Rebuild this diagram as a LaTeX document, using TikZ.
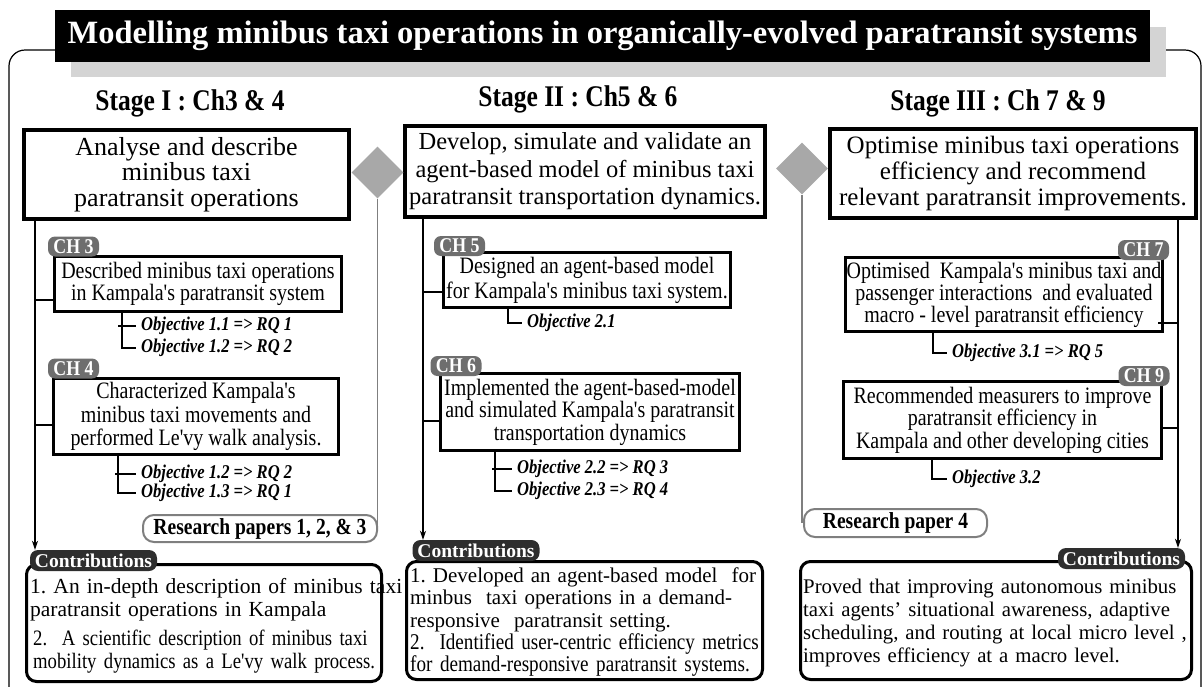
\documentclass[tikz,border=0pt]{standalone}
\usepackage{fontspec}
\setmainfont{Liberation Serif}
\newfontfamily\tightserif[FakeStretch=0.85]{Liberation Serif}
\usetikzlibrary{arrows.meta,shapes.geometric}

\definecolor{tagGray}{HTML}{6E6E6E}
\definecolor{tagDark}{HTML}{2E2E2E}
\definecolor{diamGray}{HTML}{A8A8A8}
\definecolor{lineGray}{HTML}{7F7F7F}
\definecolor{shadowGray}{HTML}{D4D4D4}

\newcommand{\fs}[2]{\fontsize{#1}{#2}\selectfont}
\frenchspacing

\begin{document}
\begin{tikzpicture}[x=1pt,y=-1pt,
  mainbox/.style={draw, line width=4.5pt, fill=white, align=center, inner sep=0pt},
  chbox/.style={draw, line width=2.5pt, fill=white, align=center, inner sep=0pt},
  chtag/.style={fill=tagGray, rounded corners=7pt, text=white, inner sep=0pt,
    minimum width=51pt, minimum height=20pt, font=\tightserif\bfseries\fs{21}{21}},
  contag/.style={fill=tagDark, rounded corners=8pt, text=white, inner sep=0pt,
    minimum width=127pt, minimum height=21pt, font=\bfseries\fs{19.5}{20}},
  conbox/.style={draw, line width=3pt, rounded corners=10pt, inner sep=0pt},
  paperbox/.style={draw=lineGray, line width=2pt, rounded corners=11pt, inner sep=0pt,
    font=\tightserif\bfseries\fs{23}{23}},
  objtext/.style={anchor=west, inner sep=0pt, font=\tightserif\bfseries\itshape\fs{19.5}{19.5}},
  heading/.style={inner sep=0pt, font=\tightserif\bfseries\fs{30}{30}},
  contxt/.style={anchor=base west, inner sep=0pt, text width=420pt, align=left},
  junction/.style={diamond, fill=diamGray, inner sep=0pt, minimum width=52pt, minimum height=52pt},
  link/.style={line width=1.3pt},
  glink/.style={line width=1.3pt, draw=lineGray},
  flow/.style={line width=1.3pt, -{Stealth[length=9pt,width=6pt]}}
]
\useasboundingbox (0,0) rectangle (1203,686);

% outer frame, title and its shadow
\draw[line width=1.2pt, rounded corners=16pt] (9,50) rectangle (1201,705);
\fill[shadowGray] (71,27) rectangle (1166,77);
\node[fill=black, text=white, inner sep=0pt, minimum width=1095pt, minimum height=52pt,
  font=\bfseries\fs{32.5}{33}] (title) at (602.5,36)
  {Modelling minibus taxi operations in organically-evolved paratransit systems};

% stage headings
\node[heading] (h1) at (190,103) {Stage I : Ch3 \& 4};
\node[heading] (h2) at (578,99) {Stage II : Ch5 \& 6};
\node[heading] (h3) at (998,103) {Stage III : Ch 7 \& 9};

% stage aims
\node[mainbox, minimum width=325pt, minimum height=89pt, font=\fs{26}{25.5}] (s1) at (186.5,174.5)
  {Analyse and describe\\minibus taxi\\paratransit operations};
\node[mainbox, minimum width=360pt, minimum height=91pt, font=\fs{24.5}{27.5}] (s2) at (585,171.5)
  {Develop, simulate and validate an\\agent-based model of minibus taxi\\paratransit transportation dynamics.};
\node[mainbox, minimum width=366pt, minimum height=89pt, font=\fs{25}{26}] (s3) at (1013,173.5)
  {Optimise minibus taxi operations\\efficiency and recommend\\relevant paratransit improvements.};

\node[junction] (d1) at (377.5,172.5) {};
\node[junction] (d2) at (802,168.5) {};

% chapter boxes
\node[chbox, minimum width=287pt, minimum height=55pt, font=\tightserif\fs{23.5}{21}] (ch3) at (198,284)
  {Described minibus taxi operations\\in Kampala's paratransit system};
\node[chbox, minimum width=285pt, minimum height=76pt, font=\tightserif\fs{23.5}{23.5}] (ch4) at (196,416.5)
  {Characterized Kampala's\\minibus taxi movements and\\performed Le'vy walk analysis.};
\node[chbox, minimum width=287pt, minimum height=55pt, font=\tightserif\fs{23.5}{25}] (ch5) at (587,280)
  {Designed an agent-based model\\for Kampala's minibus taxi system.};
\node[chbox, minimum width=299pt, minimum height=77pt, font=\tightserif\fs{23.5}{22.5}] (ch6) at (590,412)
  {Implemented the agent-based-model\\and simulated Kampala's paratransit\\transportation dynamics};
\node[chbox, minimum width=317pt, minimum height=74pt, font=\tightserif\fs{23.5}{22}] (ch7) at (1004,294.5)
  {Optimised\ \ Kampala's minibus taxi and\\passenger interactions\ \ and evaluated\\macro - level paratransit efficiency};
\node[chbox, minimum width=318pt, minimum height=77pt, font=\tightserif\fs{23.5}{22.5}] (ch9) at (1002.5,420)
  {Recommended measurers to improve\\paratransit efficiency in\\Kampala and other developing cities};

\node[chtag] (t3) at (73.5,246.5) {CH 3};
\node[chtag] (t4) at (73.5,368.5) {CH 4};
\node[chtag] (t5) at (459.5,246) {CH 5};
\node[chtag] (t6) at (456,366) {CH 6};
\node[chtag] (t7) at (1143.5,250) {CH 7};
\node[chtag] (t9) at (1144,376) {CH 9};

% objectives
\node[objtext] (o11) at (141,326) {Objective 1.1 => RQ 1};
\node[objtext] (o12) at (141,348) {Objective 1.2 => RQ 2};
\node[objtext] (o12b) at (141,474) {Objective 1.2 => RQ 2};
\node[objtext] (o13) at (141,493) {Objective 1.3 => RQ 1};
\node[objtext] (o21) at (527,323) {Objective 2.1};
\node[objtext] (o22) at (517,469) {Objective 2.2 => RQ 3};
\node[objtext] (o23) at (517,491) {Objective 2.3 => RQ 4};
\node[objtext] (o31) at (952,353) {Objective 3.1 => RQ 5};
\node[objtext] (o32) at (952,479) {Objective 3.2};

\draw[link] (118,0 |- o11.west) -- ([xshift=-5pt]o11.west);
\draw[link] (122,0 |- ch3.south) |- ([xshift=-5pt]o12.west);
\draw[link] (115,0 |- o12b.west) -- ([xshift=-5pt]o12b.west);
\draw[link] (118,0 |- ch4.south) |- ([xshift=-5pt]o13.west);
\draw[link] (508,0 |- ch5.south) |- ([xshift=-5pt]o21.west);
\draw[link] (492,0 |- o22.west) -- ([xshift=-5pt]o22.west);
\draw[link] (495,0 |- ch6.south) |- ([xshift=-5pt]o23.west);
\draw[link] (933,0 |- ch7.south) |- ([xshift=-5pt]o31.west);
\draw[link] (932,0 |- ch9.south) |- ([xshift=-5pt]o32.west);

% research papers
\node[paperbox, minimum width=234pt, minimum height=27pt] (rp1) at (260,528.5) {Research papers 1, 2, \& 3};
\node[paperbox, minimum width=183pt, minimum height=28pt] (rp4) at (895.5,523) {Research paper 4};

\draw[glink] (d1.south) -- (d1.south |- rp1.east);
\draw[glink] (d2.south) -- (d2.south |- rp4.west);

% contributions
\node[conbox, minimum width=355pt, minimum height=117pt] (b1) at (204,623) {};
\node[conbox, minimum width=356pt, minimum height=118pt] (b2) at (584.5,620.5) {};
\node[conbox, minimum width=391pt, minimum height=118pt] (b3) at (996,620.5) {};

\node[contag] (k1) at (93.5,560.5) {Contributions};
\node[contag] (k2) at (476,550.5) {Contributions};
\node[contag] (k3) at (1121.5,558.5) {Contributions};

\node[contxt, font=\fs{21.5}{23}] (c1a) at (30,593)
  {1. An in-depth description of minibus taxi\\paratransit operations in Kampala};
\node[contxt, font=\tightserif\fs{22}{23}] (c1b) at (33,645)
  {2.\ \ A scientific description of minibus taxi\\mobility dynamics as a Le'vy walk process.};
\node[contxt, font=\fs{21}{22.5}] (c2a) at (410,582)
  {1. Developed an agent-based model\ \ for\\minbus\ \ taxi operations in a demand-\\responsive\ \ paratransit setting.};
\node[contxt, font=\tightserif\fs{22.5}{22}] (c2b) at (410,649)
  {2.\ \ Identified user-centric efficiency metrics\\for demand-responsive paratransit systems.};
\node[contxt, font=\fs{20.8}{23}] (c3) at (803,593)
  {Proved that improving autonomous minibus\\taxi agents' situational awareness, adaptive\\scheduling, and routing at local micro level ,\\improves efficiency at a macro level.};

% stage trunks
\coordinate (tr1) at (35,0);
\coordinate (tr2) at (423,0);
\coordinate (tr3) at (1178,0);
\draw[flow] (tr1 |- s1.south) -- (tr1 |- k1.north);
\draw[link] (tr1 |- 0,300) -- (ch3.west |- 0,300);
\draw[link] (tr1 |- 0,425) -- (ch4.west |- 0,425);
\draw[flow] (tr2 |- s2.south) -- (tr2 |- k2.north);
\draw[link] (tr2 |- 0,292) -- (ch5.west |- 0,292);
\draw[link] (tr2 |- 0,421) -- (ch6.west |- 0,421);
\draw[flow] (tr3 |- s3.south) -- (tr3 |- k3.north);
\draw[link] (tr3 |- 0,323) -- ([xshift=-6pt]ch7.east |- 0,323);
\draw[link] (tr3 |- 0,428) -- (ch9.east |- 0,428);
\end{tikzpicture}
\end{document}
